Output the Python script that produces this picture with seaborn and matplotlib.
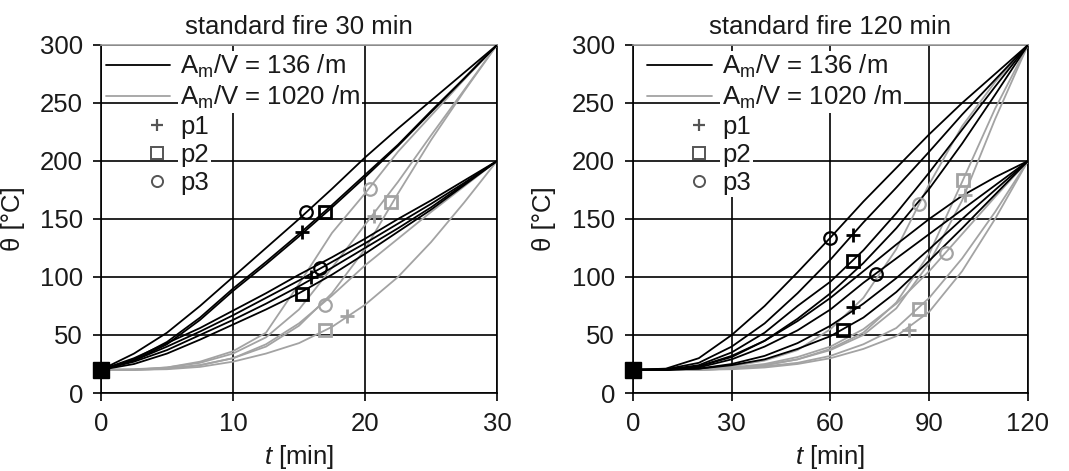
import matplotlib
matplotlib.use("Agg")
import matplotlib.pyplot as plt
import seaborn as sns
from matplotlib.lines import Line2D
from matplotlib.legend_handler import HandlerLine2D

# ---------------- data ----------------
# time grids [min]
t30 = [0, 2.5, 5, 7.5, 10, 12.5, 15, 17.5, 20, 22.5, 25, 27.5, 30]
t120 = [0, 10, 20, 30, 40, 50, 60, 70, 80, 90, 100, 110, 120]

# standard fire 30 min, Am/V = 136 /m (black)
f30_black = [
    [20, 34, 52, 75, 100, 125, 150, 176, 203, 228, 252, 276, 300],
    [20, 29, 44, 65, 90, 113, 137, 162, 188, 214, 243, 271, 300],
    [20, 28, 42, 63, 88, 111, 135, 160, 186, 213, 242, 271, 300],
    [20, 30, 43, 56, 71, 86, 102, 117, 133, 150, 166, 183, 200],
    [20, 28, 40, 53, 67, 82, 97, 113, 129, 146, 163, 181, 200],
    [20, 27, 37, 50, 63, 77, 92, 108, 125, 142, 160, 180, 200],
    [20, 25, 34, 46, 59, 72, 86, 102, 120, 139, 158, 179, 200],
]
# standard fire 30 min, Am/V = 1020 /m (grey)
f30_grey = [
    [20, 20.5, 22, 27, 36, 52, 94, 138, 172, 208, 239, 270, 300],
    [20, 20, 22, 26, 34, 48, 72, 108, 145, 182, 222, 261, 300],
    [20, 20, 21, 24, 30, 40, 58, 86, 124, 172, 218, 260, 300],
    [20, 20, 21, 24, 30, 42, 60, 84, 110, 133, 156, 178, 200],
    [20, 20, 20.5, 22.5, 27, 34, 43, 57, 76, 100, 130, 164, 200],
]
# standard fire 120 min, Am/V = 136 /m (black)
f120_black = [
    [20, 21, 30, 50, 75, 104, 134, 165, 194, 223, 250, 275, 300],
    [20, 20.5, 26, 40, 60, 86, 115, 147, 177, 208, 240, 270, 300],
    [20, 20, 24, 35, 52, 75, 96, 123, 155, 190, 227, 264, 300],
    [20, 20, 23, 31, 45, 64, 86, 112, 142, 176, 215, 257, 300],
    [20, 20, 23, 32, 45, 62, 82, 105, 128, 150, 170, 186, 200],
    [20, 20, 22, 29, 40, 54, 72, 95, 116, 137, 158, 179, 200],
    [20, 20, 21, 25, 32, 43, 58, 77, 99, 124, 150, 175, 200],
    [20, 20, 21, 24, 29, 38, 49, 65, 87, 114, 142, 171, 200],
]
# standard fire 120 min, Am/V = 1020 /m (grey)
f120_grey = [
    [20, 20, 21, 23, 28, 37, 55, 82, 124, 180, 230, 268, 300],
    [20, 20, 20, 21, 24, 29, 38, 52, 78, 120, 182, 245, 300],
    [20, 20, 20, 21, 24, 29, 37, 50, 73, 112, 166, 236, 300],
    [20, 20, 20.5, 22, 25, 31, 40, 55, 77, 105, 137, 169, 200],
    [20, 20, 20, 21, 23, 26, 32, 42, 56, 82, 116, 156, 200],
    [20, 20, 20, 20.5, 22, 25, 30, 38, 49, 70, 105, 150, 200],
]

# marker points (t, theta)
f30_black_p1_t, f30_black_p1_y = [15.2, 15.9], [139, 100]
f30_black_p2_t, f30_black_p2_y = [17.0, 15.2], [156, 85]
f30_black_p3_t, f30_black_p3_y = [15.5, 16.6], [156, 108]
f30_grey_p1_t, f30_grey_p1_y = [20.7, 18.6], [153, 66]
f30_grey_p2_t, f30_grey_p2_y = [22.0, 17.0], [165, 54]
f30_grey_p3_t, f30_grey_p3_y = [20.4, 17.0], [176, 76]

f120_black_p1_t, f120_black_p1_y = [67, 67], [136, 74]
f120_black_p2_t, f120_black_p2_y = [67, 63.7], [114, 54]
f120_black_p3_t, f120_black_p3_y = [60, 73.7], [134, 103]
f120_grey_p1_t, f120_grey_p1_y = [101, 84], [171, 54]
f120_grey_p2_t, f120_grey_p2_y = [100.3, 87], [184, 72]
f120_grey_p3_t, f120_grey_p3_y = [87, 95], [163, 121]

start_t, start_y = [0], [20]

titles = ["standard fire 30 min", "standard fire 120 min"]
xticks30 = [0, 10, 20, 30]
xticks120 = [0, 30, 60, 90, 120]
yticks = [0, 50, 100, 150, 200, 250, 300]
legend_labels = ["A$_\\mathrm{m}$/V = 136 /m", "A$_\\mathrm{m}$/V = 1020 /m", "p1", "p2", "p3"]

# ---------------- style ----------------
sns.set_theme(style="white")
plt.rcParams['font.family'] = ['Liberation Sans', 'DejaVu Sans']
plt.rcParams['mathtext.fontset'] = 'custom'
plt.rcParams['mathtext.rm'] = 'Liberation Sans'
plt.rcParams['mathtext.it'] = 'Liberation Sans:italic'
plt.rcParams['mathtext.default'] = 'regular'

FS = 18.5
BLACK = '#000000'
GREY = '#a3a3a3'
MGREY = '#555555'
TXT = '#1a1a1a'

fig = plt.figure(figsize=(10.69, 4.71), dpi=100)
ax1 = fig.add_axes([0.0945, 0.1656, 0.3704, 0.7389])
ax2 = fig.add_axes([0.5921, 0.1656, 0.3695, 0.7389])

panels = [
    (ax1, t30, f30_black, f30_grey, xticks30, titles[0],
     [(f30_black_p1_t, f30_black_p1_y), (f30_black_p2_t, f30_black_p2_y), (f30_black_p3_t, f30_black_p3_y)],
     [(f30_grey_p1_t, f30_grey_p1_y), (f30_grey_p2_t, f30_grey_p2_y), (f30_grey_p3_t, f30_grey_p3_y)],
     0.005),
    (ax2, t120, f120_black, f120_grey, xticks120, titles[1],
     [(f120_black_p1_t, f120_black_p1_y), (f120_black_p2_t, f120_black_p2_y), (f120_black_p3_t, f120_black_p3_y)],
     [(f120_grey_p1_t, f120_grey_p1_y), (f120_grey_p2_t, f120_grey_p2_y), (f120_grey_p3_t, f120_grey_p3_y)],
     0.03),
]

marker_styles = [('+', 10, 2.0), ('s', 9, 2.0), ('o', 9, 1.6)]

for ax, tt, blacks, greys, xt, title, bmk, gmk, legx in panels:
    for y in greys:
        sns.lineplot(x=tt, y=y, color=GREY, lw=1.3, ax=ax, legend=False, zorder=3)
    for y in blacks:
        sns.lineplot(x=tt, y=y, color=BLACK, lw=1.3, ax=ax, legend=False, zorder=4)
    for (mt, my), (m, ms, mw) in zip(gmk, marker_styles):
        ax.plot(mt, my, ls='none', marker=m, ms=ms, mfc='none', mec=GREY, mew=mw, zorder=5)
    for (mt, my), (m, ms, mw) in zip(bmk, marker_styles):
        ax.plot(mt, my, ls='none', marker=m, ms=ms, mfc='none', mec=BLACK, mew=mw, zorder=6)
    ax.plot(start_t, start_y, ls='none', marker='s', ms=11, color=BLACK, clip_on=False, zorder=7)

    ax.set_xlim(tt[0], tt[-1])
    ax.set_ylim(0, 300)
    ax.set_xticks(xt)
    ax.set_yticks(yticks)
    ax.set_axisbelow(True)
    ax.grid(True, color=BLACK, lw=1.2)
    for side in ['left', 'bottom', 'right']:
        ax.spines[side].set_color(BLACK)
        ax.spines[side].set_linewidth(1.2)
    ax.spines['top'].set_color('#a0a0a0')
    ax.spines['top'].set_linewidth(1.2)
    ax.tick_params(axis='both', direction='out', length=6, width=1.2, color=BLACK,
                   labelsize=FS, bottom=True, left=True, labelcolor=TXT)
    ax.tick_params(axis='y', pad=7)
    ax.tick_params(axis='x', pad=8)
    ax.set_title(title, fontsize=FS, pad=8, color=TXT)
    ax.set_xlabel("$\\mathit{t}$ [min]", fontsize=FS, labelpad=5, color=TXT)
    ax.set_ylabel("θ [°C]", fontsize=FS, labelpad=11, color=TXT)

    handles = [
        Line2D([], [], color=BLACK, lw=1.3),
        Line2D([], [], color=GREY, lw=1.3),
        Line2D([], [], ls='none', marker='+', ms=9, mew=1.6, color=MGREY),
        Line2D([], [], ls='none', marker='s', ms=8, mew=1.4, mfc='none', mec=MGREY),
        Line2D([], [], ls='none', marker='o', ms=8, mew=1.4, mfc='none', mec=MGREY),
    ]
    hmap = {h: HandlerLine2D(numpoints=1, xpad=1.5) for h in handles[2:]}
    leg = ax.legend(handles, legend_labels, loc='upper left', bbox_to_anchor=(legx, 0.985),
                    frameon=False, fontsize=FS, handlelength=2.5, handletextpad=0.4,
                    labelspacing=0.15, borderpad=0.1, borderaxespad=0, handler_map=hmap)
    leg.set_zorder(10)
    for txt in leg.get_texts():
        txt.set_color(TXT)
        txt.set_bbox(dict(facecolor='white', edgecolor='none', pad=1.5))

fig.savefig("out.png", dpi=100)
